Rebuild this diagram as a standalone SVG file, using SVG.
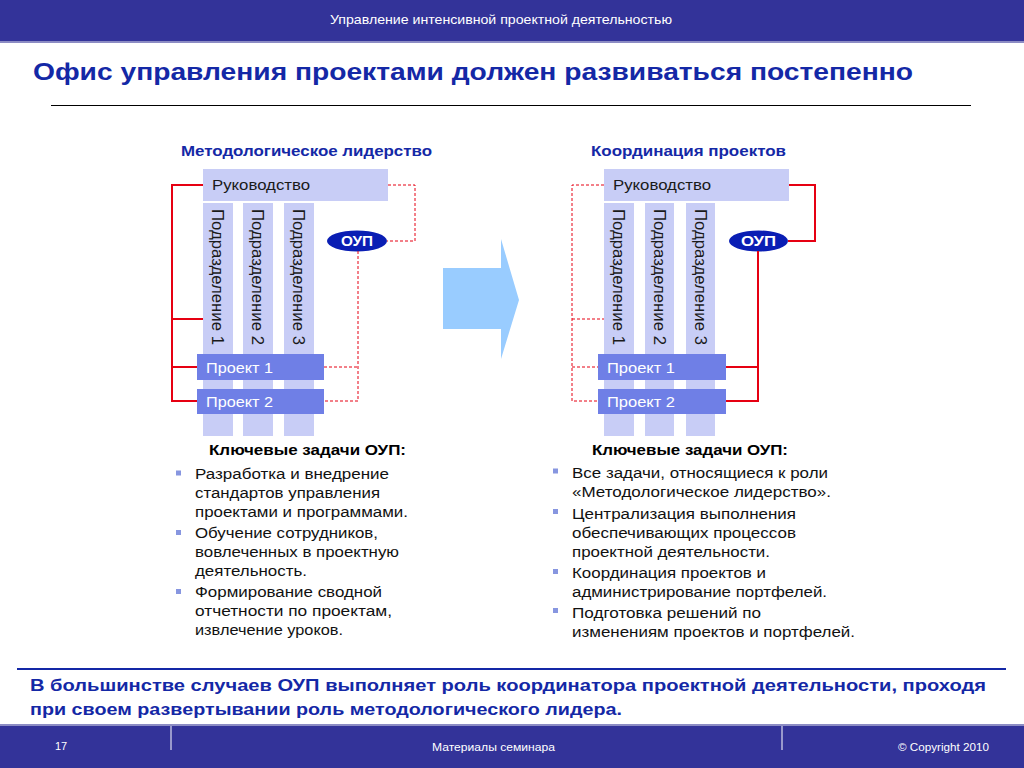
<svg xmlns="http://www.w3.org/2000/svg" width="1024" height="768" viewBox="0 0 1024 768">
<style>
text{font-family:"Liberation Sans",Arial,sans-serif}
.band{fill:#333399}
.bandline{stroke:#8c8cc4;stroke-width:2}
.hdr{fill:#ffffff;font-size:13px}
.ftr{fill:#ffffff;font-size:11px}
.title{fill:#1428a6;font-size:24.5px;font-weight:bold}
.sub{fill:#1428a6;font-size:14px;font-weight:bold}
.lead{fill:#1428a6;font-size:17px;font-weight:bold}
.box{fill:#c8cdf6}
.proj{fill:#6f7fe6}
.oup{fill:#0a1eb4}
.lbl{fill:#1a1a1a;font-size:15px}
.plbl{fill:#ffffff;font-size:15px}
.vlbl{fill:#1a1a1a;font-size:16px}
.olbl{fill:#ffffff;font-size:14px;font-weight:bold}
.solid{fill:none;stroke:#e60012;stroke-width:2}
.dash{fill:none;stroke:#e60012;stroke-width:1;stroke-dasharray:3 2}
.kh{fill:#000000;font-size:15px;font-weight:bold}
.bt{fill:#111111;font-size:15.5px}
.bul{fill:#8796e0}
</style>

<!-- header -->
<rect class="band" x="0" y="0" width="1024" height="42"/>
<line class="bandline" x1="0" y1="42" x2="1024" y2="42"/>
<text class="hdr" x="330" y="24" textLength="342" lengthAdjust="spacingAndGlyphs">Управление интенсивной проектной деятельностью</text>

<text class="title" x="33" y="80" textLength="880" lengthAdjust="spacingAndGlyphs">Офис управления проектами должен развиваться постепенно</text>
<line x1="51" y1="105.5" x2="971" y2="105.5" stroke="#000000" stroke-width="1"/>

<text class="sub" x="181" y="156" textLength="251" lengthAdjust="spacingAndGlyphs">Методологическое лидерство</text>
<text class="sub" x="591" y="156" textLength="195" lengthAdjust="spacingAndGlyphs">Координация проектов</text>

<!-- left diagram -->
<g id="left-rukovodstvo">
<rect class="box" x="203" y="169" width="185" height="32"/>
<text class="lbl" x="212" y="190" textLength="98" lengthAdjust="spacingAndGlyphs">Руководство</text>
</g>
<g id="left-div1">
<rect class="box" x="203" y="203" width="30" height="233"/>
<text class="vlbl" transform="translate(212,209) rotate(90)" textLength="136" lengthAdjust="spacingAndGlyphs">Подразделение 1</text>
</g>
<g id="left-div2">
<rect class="box" x="243" y="203" width="30" height="233"/>
<text class="vlbl" transform="translate(252,209) rotate(90)" textLength="136" lengthAdjust="spacingAndGlyphs">Подразделение 2</text>
</g>
<g id="left-div3">
<rect class="box" x="284" y="203" width="30" height="233"/>
<text class="vlbl" transform="translate(293,209) rotate(90)" textLength="136" lengthAdjust="spacingAndGlyphs">Подразделение 3</text>
</g>
<g id="left-proj1">
<rect class="proj" x="197" y="354" width="127" height="26"/>
<text class="plbl" x="206" y="373" textLength="67" lengthAdjust="spacingAndGlyphs">Проект 1</text>
</g>
<g id="left-proj2">
<rect class="proj" x="197" y="389" width="127" height="25"/>
<text class="plbl" x="206" y="407" textLength="67" lengthAdjust="spacingAndGlyphs">Проект 2</text>
</g>
<g id="left-oup">
<ellipse class="oup" cx="357" cy="241" rx="30" ry="10.5"/>
<text class="olbl" x="341" y="246" textLength="32" lengthAdjust="spacingAndGlyphs">ОУП</text>
</g>

<!-- right diagram -->
<g id="right-rukovodstvo">
<rect class="box" x="604" y="169" width="185" height="32"/>
<text class="lbl" x="613" y="190" textLength="98" lengthAdjust="spacingAndGlyphs">Руководство</text>
</g>
<g id="right-div1">
<rect class="box" x="604" y="203" width="30" height="233"/>
<text class="vlbl" transform="translate(613,209) rotate(90)" textLength="136" lengthAdjust="spacingAndGlyphs">Подразделение 1</text>
</g>
<g id="right-div2">
<rect class="box" x="645" y="203" width="29" height="233"/>
<text class="vlbl" transform="translate(654,209) rotate(90)" textLength="136" lengthAdjust="spacingAndGlyphs">Подразделение 2</text>
</g>
<g id="right-div3">
<rect class="box" x="686" y="203" width="29" height="233"/>
<text class="vlbl" transform="translate(695,209) rotate(90)" textLength="136" lengthAdjust="spacingAndGlyphs">Подразделение 3</text>
</g>
<g id="right-proj1">
<rect class="proj" x="598" y="354" width="128" height="26"/>
<text class="plbl" x="607" y="373" textLength="68" lengthAdjust="spacingAndGlyphs">Проект 1</text>
</g>
<g id="right-proj2">
<rect class="proj" x="598" y="389" width="128" height="25"/>
<text class="plbl" x="607" y="407" textLength="68" lengthAdjust="spacingAndGlyphs">Проект 2</text>
</g>
<g id="right-oup">
<ellipse class="oup" cx="758.5" cy="241" rx="29.5" ry="10.5"/>
<text class="olbl" x="741" y="246" textLength="35" lengthAdjust="spacingAndGlyphs">ОУП</text>
</g>

<!-- connectors -->
<g id="connectors">
<path class="solid" d="M203,185 H172 V401 H197 M172,319 H203 M172,367 H197"/>
<path class="dash" d="M388,185 H415 V241 H387 M358,251 V401 H324 M324,367 H358"/>
<path class="dash" d="M604,185 H572 V401 H598 M572,319 H604 M572,367 H598"/>
<path class="solid" d="M789,185 H815 V241 H788 M758,251 V401 H726 M726,367 H758"/>
</g>

<!-- transition arrow -->
<g id="arrow">
<polygon points="443,268 501,268 501,239 519,300 501,359 501,329 443,329" fill="#99ccff"/>
</g>

<!-- left tasks -->
<g id="left-tasks">
<text class="kh" x="209" y="455" textLength="197" lengthAdjust="spacingAndGlyphs">Ключевые задачи ОУП:</text>
<rect class="bul" x="176" y="470.5" width="5" height="5"/>
<rect class="bul" x="176" y="530" width="5" height="5"/>
<rect class="bul" x="176" y="589" width="5" height="5"/>
<text class="bt" x="195" y="479" textLength="194" lengthAdjust="spacingAndGlyphs">Разработка и внедрение</text>
<text class="bt" x="195" y="498" textLength="185" lengthAdjust="spacingAndGlyphs">стандартов управления</text>
<text class="bt" x="195" y="517" textLength="213" lengthAdjust="spacingAndGlyphs">проектами и программами.</text>
<text class="bt" x="195" y="538" textLength="183" lengthAdjust="spacingAndGlyphs">Обучение сотрудников,</text>
<text class="bt" x="195" y="557" textLength="204" lengthAdjust="spacingAndGlyphs">вовлеченных в проектную</text>
<text class="bt" x="195" y="576" textLength="112" lengthAdjust="spacingAndGlyphs">деятельность.</text>
<text class="bt" x="195" y="597" textLength="187" lengthAdjust="spacingAndGlyphs">Формирование сводной</text>
<text class="bt" x="195" y="616" textLength="197" lengthAdjust="spacingAndGlyphs">отчетности по проектам,</text>
<text class="bt" x="195" y="635" textLength="148" lengthAdjust="spacingAndGlyphs">извлечение уроков.</text>
</g>

<!-- right tasks -->
<g id="right-tasks">
<text class="kh" x="592" y="455" textLength="196" lengthAdjust="spacingAndGlyphs">Ключевые задачи ОУП:</text>
<rect class="bul" x="553" y="468.5" width="5" height="5"/>
<rect class="bul" x="553" y="509" width="5" height="5"/>
<rect class="bul" x="553" y="569" width="5" height="5"/>
<rect class="bul" x="553" y="608" width="5" height="5"/>
<text class="bt" x="572" y="478" textLength="256" lengthAdjust="spacingAndGlyphs">Все задачи, относящиеся к роли</text>
<text class="bt" x="572" y="497" textLength="259" lengthAdjust="spacingAndGlyphs">«Методологическое лидерство».</text>
<text class="bt" x="572" y="519" textLength="224" lengthAdjust="spacingAndGlyphs">Централизация выполнения</text>
<text class="bt" x="572" y="538" textLength="224" lengthAdjust="spacingAndGlyphs">обеспечивающих процессов</text>
<text class="bt" x="572" y="557" textLength="198" lengthAdjust="spacingAndGlyphs">проектной деятельности.</text>
<text class="bt" x="572" y="578" textLength="194" lengthAdjust="spacingAndGlyphs">Координация проектов и</text>
<text class="bt" x="572" y="597" textLength="255" lengthAdjust="spacingAndGlyphs">администрирование портфелей.</text>
<text class="bt" x="572" y="618" textLength="189" lengthAdjust="spacingAndGlyphs">Подготовка решений по</text>
<text class="bt" x="572" y="637" textLength="283" lengthAdjust="spacingAndGlyphs">изменениям проектов и портфелей.</text>
</g>

<!-- conclusion -->
<line x1="17" y1="669" x2="1006" y2="669" stroke="#1428a6" stroke-width="2"/>
<text class="lead" x="30" y="691" textLength="956" lengthAdjust="spacingAndGlyphs">В большинстве случаев ОУП выполняет роль координатора проектной деятельности, проходя</text>
<text class="lead" x="30" y="715" textLength="592" lengthAdjust="spacingAndGlyphs">при своем развертывании роль методологического лидера.</text>

<!-- footer -->
<rect class="band" x="0" y="725" width="1024" height="43"/>
<line class="bandline" x1="0" y1="725" x2="1024" y2="725"/>
<line x1="171" y1="726" x2="171" y2="750" stroke="#ffffff" stroke-width="1"/>
<line x1="782" y1="726" x2="782" y2="750" stroke="#ffffff" stroke-width="1"/>
<text class="ftr" x="55" y="750">17</text>
<text class="ftr" x="432" y="751" textLength="123" lengthAdjust="spacingAndGlyphs">Материалы семинара</text>
<text class="ftr" x="898" y="751" textLength="91" lengthAdjust="spacingAndGlyphs">© Copyright 2010</text>
</svg>
